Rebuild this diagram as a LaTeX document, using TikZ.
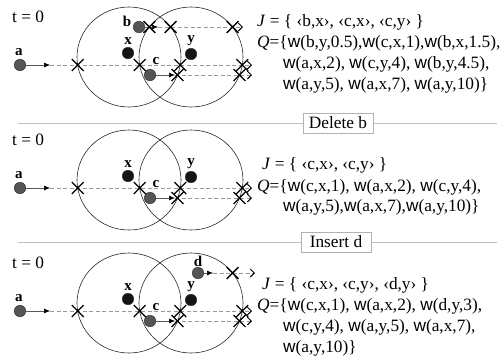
\documentclass[tikz,border=0pt]{standalone}
\usepackage{fontspec}
\setmainfont{Liberation Serif}
\newfontfamily\wfont{Liberation Sans}
\usetikzlibrary{arrows.meta,shapes.misc}
\newcommand\ww{{\wfont w}}
\definecolor{dotgray}{HTML}{555555}
\definecolor{dotblack}{HTML}{151515}
\tikzset{
 gdot/.style={circle,fill=dotgray,draw=black!85,line width=0.4pt,minimum size=11.5pt,inner sep=0pt},
 kdot/.style={gdot,fill=dotblack},
 lbl/.style={font=\fontsize{15}{15}\selectfont\bfseries,inner sep=0pt},
 xmark/.style={cross out,draw=black,line width=1.3pt,minimum size=10.5pt,inner sep=0pt},
 move/.style={draw=black!65,line width=0.6pt,-{Latex[length=6pt,width=5pt,black]}},
 future/.style={draw=black!40,line width=0.6pt,dash pattern=on 4pt off 2.5pt,-{Straight Barb[length=4pt,width=8pt,black,line width=1pt]}},
 region/.style={draw=black!85,line width=0.6pt},
 txt/.style={anchor=base west,inner sep=0pt},
 sepline/.style={draw=black!25,line width=0.8pt},
 tag/.style={draw=black!30,fill=white,minimum width=70pt,minimum height=20pt,inner sep=0pt,line width=0.7pt},
}
\newcommand\basepanel[1]{%
 \draw[region] (129,57) ellipse [x radius=52pt, y radius=50pt];
 \draw[region] (191,57) ellipse [x radius=52pt, y radius=50pt];
 \node[txt] (t#1) at (12,22) {t = 0};
 \node[gdot] (a#1) at (20,65) {};
 \node[lbl] (la#1) at (19,52) {a};
 \node[kdot] (x#1) at (128,53) {};
 \node[lbl] (lx#1) at (128,41) {x};
 \node[kdot] (y#1) at (191,54) {};
 \node[lbl] (ly#1) at (191,41) {y};
 \node[gdot] (c#1) at (150,75) {};
 \node[lbl] (lc#1) at (156,61) {c};
 \coordinate (ta#1) at (50,65);
 \coordinate (ea#1) at (252,65);
 \coordinate (tc#1) at (175,75);
 \coordinate (ec#1) at (252,75);
 \draw[move] (a#1) -- (ta#1);
 \draw[future] (ta#1) -- (ea#1);
 \draw[move] (c#1) -- (tc#1);
 \draw[future] (tc#1) -- (ec#1);
 \foreach \k/\px in {1/77.7,2/139.7,3/180.3,4/242.3} {\node[xmark] (xa#1\k) at (\px,65) {};}
 \foreach \k/\px in {1/177.5,2/239.5} {\node[xmark] (xc#1\k) at (\px,75) {};}
}
\begin{document}
\begin{tikzpicture}[x=1pt,y=-1pt,font=\fontsize{17.3}{21}\selectfont]
\useasboundingbox (0,0) rectangle (503,360);
% separators
\coordinate (s1l) at (18,123); \coordinate (s1r) at (497,123);
\coordinate (s2l) at (18,242); \coordinate (s2r) at (497,242);
\draw[sepline] (s1l) -- (s1r);
\draw[sepline] (s2l) -- (s2r);
\node[tag] (del) at (338,123) {Delete b};
\node[tag] (ins) at (336,242) {Insert d};
% panel 1
\begin{scope}
 \basepanel{1}
 \node[gdot] (b1) at (139,27) {};
 \node[lbl] (lb1) at (127,21) {b};
 \coordinate (tb1) at (158,27);
 \coordinate (eb1) at (243,27);
 \draw[move] (b1) -- (tb1);
 \draw[future] (tb1) -- (eb1);
 \foreach \k/\px in {1/149.4,2/170.6,3/232.6} {\node[xmark] (xb1\k) at (\px,27) {};}
 \node[txt] (J1) at (257,26) {\textit{J} = \{ ‹b,x›, ‹c,x›, ‹c,y› \}};
 \node[txt] (Q1) at (257,47) {\textit{Q}=\{\ww(b,y,0.5),\ww(c,x,1),\ww(b,x,1.5),};
 \node[txt] (Q1b) at (283,68) {\ww(a,x,2), \ww(c,y,4), \ww(b,y,4.5),};
 \node[txt] (Q1c) at (283,89) {\ww(a,y,5), \ww(a,x,7), \ww(a,y,10)\}};
\end{scope}
% panel 2
\begin{scope}[yshift=-123pt]
 \basepanel{2}
 \node[txt] (J2) at (262,46) {\textit{J} = \{ ‹c,x›, ‹c,y› \}};
 \node[txt] (Q2) at (257,68) {\textit{Q}=\{\ww(c,x,1), \ww(a,x,2), \ww(c,y,4),};
 \node[txt] (Q2b) at (283,88) {\ww(a,y,5),\ww(a,x,7),\ww(a,y,10)\}};
\end{scope}
% panel 3
\begin{scope}[yshift=-246pt]
 \basepanel{3}
 \node[gdot] (d3) at (198,27) {};
 \node[lbl] (ld3) at (198,15) {d};
 \coordinate (td3) at (213,27);
 \coordinate (ed3) at (255,27);
 \draw[move] (d3) -- (td3);
 \draw[future] (td3) -- (ed3);
 \node[xmark] (xd31) at (232.6,27) {};
 \node[txt] (J3) at (262,43) {\textit{J} = \{ ‹c,x›, ‹c,y›, ‹d,y› \}};
 \node[txt] (Q3) at (257,64) {\textit{Q}=\{\ww(c,x,1), \ww(a,x,2), \ww(d,y,3),};
 \node[txt] (Q3b) at (283,85) {\ww(c,y,4), \ww(a,y,5), \ww(a,x,7),};
 \node[txt] (Q3c) at (283,106) {\ww(a,y,10)\}};
\end{scope}
\end{tikzpicture}
\end{document}
